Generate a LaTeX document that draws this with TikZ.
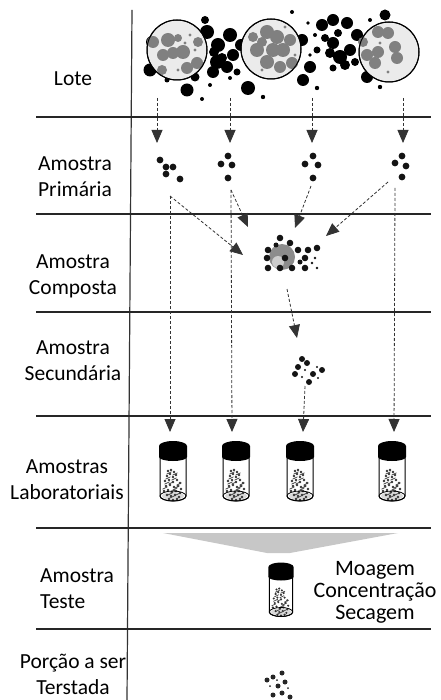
\documentclass[tikz,border=0pt]{standalone}
\usepackage{fontspec}
\setmainfont{Carlito}
\usetikzlibrary{arrows.meta}
\begin{document}
\begin{tikzpicture}[x=1pt,y=-1pt,
  rule/.style={line width=1.6pt, black!85},
  axis/.style={line width=1.2pt, black!80},
  flow/.style={dash pattern=on 3pt off 2pt, line width=0.8pt, black!80,
    -{Triangle[length=13pt,width=11pt]}},
  lbl/.style={font=\fontsize{21.5}{26}\selectfont, align=center, inner sep=0pt},
  proc/.style={font=\fontsize{22}{22}\selectfont, align=center, inner sep=0pt},
  lump/.style={fill=black},
  spot/.style={fill=black!50},
  pellet/.style={fill=black!92},
  bead/.style={fill=black!85},
  pics/vial/.style={code={
    % contents: a small pile of grains
    \fill[black!15] (0,40) ellipse[x radius=11, y radius=4];
    \foreach \u/\v in {-5/15,-2/14,1/16,-6/20,-3/18,0/21,3/19,-8/25,-4/24,0/26,4/24,7/27,-7/30,-3/29,1/31,5/30,8/33,
                       -9/35,-5/34,-1/36,3/35,7/37,-6/39,-2/40,2/39,6/41,-4/43,0/44,4/43}
      \fill[black!80] (\u,\v) circle[radius=1.3];
    \foreach \u/\v in {-4/17,2/18,-5/22,1/23,-2/27,6/28,-8/32,2/33,-3/38,5/38,-6/27,4/31,0/35,-1/41}
      \draw[black!75, line width=0.7pt] (\u-2.5,\v+1.2) -- (\u+2.5,\v-1.2);
    % glass
    \draw[line width=1pt] (-13,0) -- (-13,40)
      arc[start angle=180, end angle=0, x radius=13, y radius=5] -- (13,0);
    \draw[line width=0.8pt] (0,40) ellipse[x radius=13, y radius=5];
    % cap
    \fill[black] (-14,1) -- (-14,-10)
      arc[start angle=180, end angle=360, x radius=14, y radius=5] -- (14,1)
      arc[start angle=0, end angle=180, x radius=14, y radius=4] -- cycle;
  }}
]
\useasboundingbox (0,0) rectangle (440,700);

% ---------------- frame ----------------
\draw[axis] (132,10) -- (127,700);
\foreach \yy in {117,214,312,416,528,629}
  \draw[rule] (36,\yy) -- (431,\yy);

% ---------------- row labels ----------------
\node[lbl] (lote)   at (73,79)  {Lote};
\node[lbl] (prim)   at (75,177) {Amostra\\Primária};
\node[lbl] (comp)   at (73,276) {Amostra\\Composta};
\node[lbl] (sec)    at (73,361) {Amostra\\Secundária};
\node[lbl] (lab)    at (67,480) {Amostras\\Laboratoriais};
\node[lbl, align=left, anchor=west] (teste) at (40,589) {Amostra\\Teste};
\node[lbl] (porcao) at (73,674) {Porção a ser\\Terstada};
\node[proc] (steps) at (375,592) {Moagem\\Concentração\\Secagem};

% ---------------- lot ----------------
% loose black lumps behind the increments
\foreach \a/\b/\r in {152/42/6,150/70/6.5,187/90/6.5,167/80/2.5,202/99/2,210/85/2,195/77/4.5,
    207/32/7,218/45/7,230/35/7,217/62/7,227/67/6,233/55/6,213/72/6,237/72/3.5,230/78/2,
    214/52/5,222/58/5,241/45/6,248/88/7,263/97/2.2,205/20/4,
    302/40/6,310/67/6,303/80/6,317/88/2.2,
    322/25/6,333/20/6,333/43/6,347/23/6,340/57/7,350/50/6,357/35/6,330/53/5,333/68/3.5,
    345/65/5,355/62/4,325/38/4,317/50/3.5,338/33/4,
    385/15/5.5,367/77/6,380/87/2.2,308/23/1.8,315/35/2,370/20/2,310/55/1.8,292/12/2}
  \fill[lump] (\a,\b) circle[radius=\r];
% three increments
\foreach \cx/\cy in {177/50,271/49,389/52}
  \filldraw[fill=black!8, draw=black, line width=1pt] (\cx,\cy) circle[radius=30];
\foreach \a/\b/\r in {153/42/6,168/40/7,163/55/6,173/53/6,183/52/7,187/68/6,197/63/6,198/42/5,162/70/5,
    178/38/4,
    257/50/7,267/32/7,277/37/7,273/50/7,283/50/7,267/62/7,280/67/6,290/40/6,292/63/6,253/37/5,262/42/5,
    378/32/6,388/33/6,395/47/6,378/52/6,397/58/6,367/55/6,375/63/6,363/42/5}
  \fill[spot] (\a,\b) circle[radius=\r];
\foreach \a/\b in {190/35,185/43,195/50,178/70,285/27,295/55,262/70,388/72,380/43}
  \fill[spot] (\a,\b) circle[radius=1.6];
\foreach \cx/\cy in {177/50,271/49,389/52}
  \draw[black, line width=1pt] (\cx,\cy) circle[radius=30];

% ---------------- primary increments ----------------
\foreach \a/\b in {160/160,166/167,173/167,166/174,180/179,
                   228/156,221/164,232/165,228/178,
                   313/156,305/164,318/165,313/178,
                   402/156,395/163,406/166,402/177}
  \fill[pellet] (\a,\b) circle[radius=3.4];

% ---------------- composite sample ----------------
\fill[black!45] (282,257) circle[radius=13];
\fill[black!20] (278,262) circle[radius=6];
\foreach \a/\b/\r in {280/238/3.3,290/243/3.3,268/250/3.3,298/250/3.3,308/250/3.3,317/248/3.3,
    267/258/3.3,285/258/3.3,305/258/3.3,268/268/3.3,280/268/3.3,292/268/3.3,305/268/3.3,
    276/245/2.5,300/262/2.5}
  \fill[pellet] (\a,\b) circle[radius=\r];
\foreach \a/\b in {315/258,317/268,312/263}
  \fill[pellet] (\a,\b) circle[radius=1.3];

% ---------------- secondary sample ----------------
\foreach \a/\b in {302/359,307/363,298/367,295/374,313/374,322/370,309/382}
  \fill[pellet] (\a,\b) circle[radius=3];
\foreach \a/\b in {305/370,317/367,302/377,318/378}
  \fill[pellet] (\a,\b) circle[radius=1.1];

% ---------------- laboratory samples ----------------
\pic at (173,456) {vial};
\pic at (236,456) {vial};
\pic at (300,456) {vial};
\pic at (392,456) {vial};

% ---------------- test sample ----------------
\fill[black!22] (163,533) -- (398,533) -- (290,553) -- (267,553) -- cycle;
\pic[scale=0.9] at (281,576) {vial};

% ---------------- portion to be tested ----------------
\foreach \a/\b in {267/680,273/677,282/673,285/682,273/695,282/693,290/697,278/686}
  \fill[bead] (\a,\b) circle[radius=2.5];
\foreach \a/\b in {270/686,288/688,277/680}
  \fill[bead] (\a,\b) circle[radius=1];

% ---------------- flow ----------------
\coordinate (lA) at (157,98);  \coordinate (pA) at (157,143);
\coordinate (lB) at (230,98);  \coordinate (pB) at (230,143);
\coordinate (lC) at (312,98);  \coordinate (pC) at (312,143);
\coordinate (lD) at (403,98);  \coordinate (pD) at (403,143);
\foreach \s/\t in {lA/pA,lB/pB,lC/pC,lD/pD}
  \draw[flow] (\s) -- (\t);

\coordinate (oA) at (170,196);
\coordinate (oB) at (231,190);
\coordinate (oC) at (311,186);
\coordinate (oD) at (388,182);
\coordinate (oE) at (395,188);
\coordinate (cA) at (243,255);
\coordinate (cB) at (248,227);
\coordinate (cC) at (295,228);
\coordinate (cD) at (326,236);
\foreach \s/\t in {oA/cA,oB/cB,oC/cC,oD/cD}
  \draw[flow] (\s) -- (\t);

\coordinate (cOut) at (287,289);
\coordinate (sIn)  at (297,338);
\draw[flow] (cOut) -- (sIn);

\coordinate (sOut) at (305,386);
\coordinate (vA) at (170,432);
\coordinate (vB) at (232,432);
\coordinate (vC) at (303,432);
\coordinate (vD) at (394,432);
\draw[flow] (oA) -- (vA);
\draw[flow] (oB) -- (vB);
\draw[flow] (sOut) -- (vC);
\draw[flow] (oE) -- (vD);
\end{tikzpicture}
\end{document}
